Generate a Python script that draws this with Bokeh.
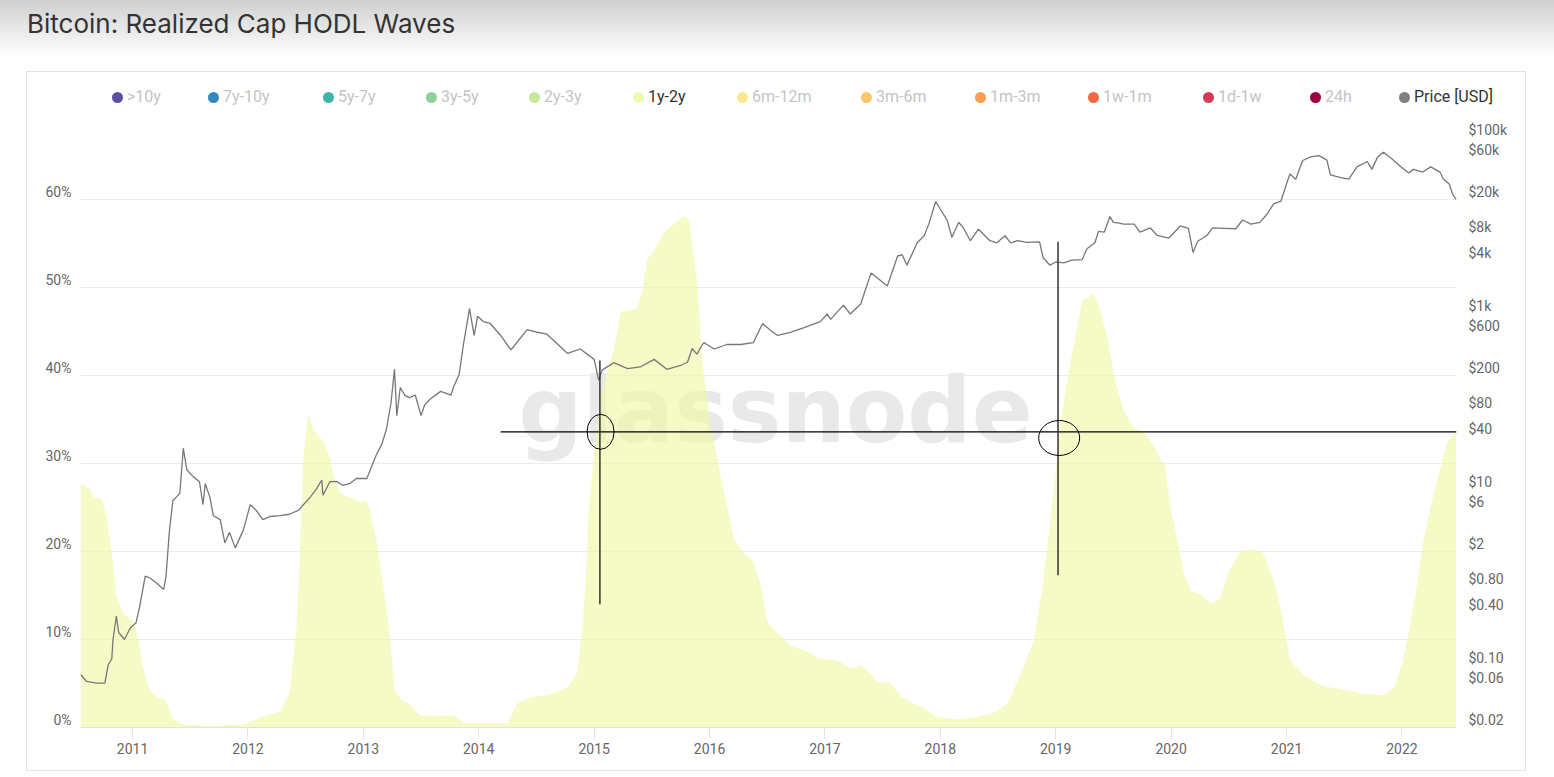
import html
from bokeh.plotting import figure
from bokeh.models import (Range1d, LogScale, LogAxis, FixedTicker, CustomJSTickFormatter,
                          PrintfTickFormatter, Label, Div)
from bokeh.layouts import column
from bokeh.embed import file_html
from bokeh.resources import INLINE

# ---------------- data (dates as decimal years) ----------------
wave_t = [2010.549, 2010.63, 2010.66, 2010.73, 2010.775, 2010.82, 2010.86, 2010.92, 2011.01, 2011.05,
          2011.09, 2011.14, 2011.21, 2011.29, 2011.35, 2011.44, 2011.67, 2011.96, 2012.16, 2012.28,
          2012.36, 2012.42, 2012.45, 2012.48, 2012.52, 2012.57, 2012.62, 2012.67, 2012.71, 2012.75,
          2012.80, 2012.91, 2012.97, 2013.03, 2013.06, 2013.11, 2013.17, 2013.23, 2013.27, 2013.33,
          2013.40, 2013.46, 2013.50, 2013.78, 2013.87, 2014.25, 2014.33, 2014.42, 2014.65, 2014.77,
          2014.85, 2014.90, 2014.93, 2014.95, 2015.00, 2015.06, 2015.11, 2015.17, 2015.23, 2015.37,
          2015.42, 2015.46, 2015.52, 2015.60, 2015.69, 2015.78, 2015.82, 2015.85, 2015.89, 2015.94,
          2016.01, 2016.07, 2016.12, 2016.21, 2016.30, 2016.38, 2016.44, 2016.50, 2016.56, 2016.62,
          2016.70, 2016.85, 2016.96, 2017.11, 2017.22, 2017.31, 2017.40, 2017.45, 2017.57, 2017.66,
          2017.74, 2017.86, 2017.97, 2018.15, 2018.32, 2018.49, 2018.58, 2018.64, 2018.72, 2018.81,
          2018.88, 2018.94, 2019.00, 2019.04, 2019.10, 2019.16, 2019.23, 2019.33, 2019.39, 2019.45,
          2019.51, 2019.59, 2019.68, 2019.76, 2019.85, 2019.92, 2019.95, 2019.99, 2020.05, 2020.11,
          2020.17, 2020.25, 2020.36, 2020.43, 2020.51, 2020.60, 2020.69, 2020.79, 2020.89, 2020.95,
          2021.03, 2021.15, 2021.32, 2021.50, 2021.67, 2021.84, 2021.93, 2022.00, 2022.06, 2022.12,
          2022.18, 2022.25, 2022.33, 2022.39, 2022.47]
wave_1y2y_pct = [27.7, 27.1, 26.2, 26.0, 24.0, 19.8, 15.0, 12.9, 12.0, 9.9,
                 6.9, 4.4, 3.5, 3.1, 0.9, 0.3, 0.2, 0.3, 1.4, 1.8,
                 3.9, 11.2, 19.8, 30.5, 35.6, 33.9, 33.0, 32.2, 30.5, 28.3,
                 26.6, 26.0, 25.6, 25.8, 24.5, 21.5, 16.4, 10.4, 4.4, 3.1,
                 2.7, 1.8, 1.3, 1.4, 0.5, 0.5, 2.7, 3.3, 3.9, 4.6,
                 6.1, 11.2, 17.6, 24.1, 31.3, 37.8, 40.3, 42.9, 47.2, 47.6,
                 49.7, 53.2, 54.2, 56.2, 57.2, 58.1, 57.7, 54.9, 51.0, 41.2,
                 34.3, 30.5, 27.1, 21.5, 19.8, 18.9, 16.4, 12.1, 11.0, 10.4,
                 9.3, 8.6, 7.8, 7.6, 6.7, 7.1, 6.1, 5.2, 5.0, 3.5,
                 2.9, 2.2, 1.2, 0.9, 1.2, 1.8, 2.7, 4.4, 6.9, 9.9,
                 15.5, 21.9, 29.2, 34.8, 39.5, 43.7, 48.5, 49.3, 47.2, 44.2,
                 39.6, 36.0, 34.0, 33.6, 32.0, 30.2, 29.7, 25.2, 21.6, 17.6,
                 15.5, 15.1, 14.0, 14.9, 18.0, 20.0, 20.2, 20.0, 16.7, 13.5,
                 7.7, 5.9, 4.7, 4.3, 3.8, 3.7, 4.5, 7.2, 10.8, 15.3,
                 20.7, 25.2, 29.3, 32.4, 33.6]

price_t = [2010.549, 2010.60, 2010.69, 2010.76, 2010.79, 2010.82, 2010.83, 2010.86, 2010.88, 2010.93,
           2010.98, 2011.03, 2011.06, 2011.11, 2011.15, 2011.21, 2011.27, 2011.29, 2011.32, 2011.35,
           2011.38, 2011.41, 2011.44, 2011.47, 2011.53, 2011.58, 2011.61, 2011.63, 2011.67, 2011.70,
           2011.76, 2011.80, 2011.84, 2011.89, 2011.96, 2012.02, 2012.07, 2012.13, 2012.19, 2012.28,
           2012.36, 2012.44, 2012.48, 2012.54, 2012.59, 2012.64, 2012.65, 2012.71, 2012.77, 2012.82,
           2012.88, 2012.94, 2013.03, 2013.06, 2013.11, 2013.16, 2013.20, 2013.24, 2013.27, 2013.29,
           2013.32, 2013.36, 2013.40, 2013.45, 2013.50, 2013.53, 2013.58, 2013.67, 2013.76, 2013.78,
           2013.83, 2013.87, 2013.92, 2013.96, 2013.99, 2014.04, 2014.10, 2014.19, 2014.28, 2014.33,
           2014.42, 2014.51, 2014.59, 2014.65, 2014.77, 2014.88, 2015.00, 2015.04, 2015.07, 2015.11,
           2015.17, 2015.29, 2015.40, 2015.52, 2015.63, 2015.75, 2015.81, 2015.85, 2015.89, 2015.95,
           2016.04, 2016.15, 2016.27, 2016.38, 2016.46, 2016.53, 2016.59, 2016.70, 2016.82, 2016.96,
           2017.02, 2017.05, 2017.16, 2017.22, 2017.31, 2017.40, 2017.45, 2017.54, 2017.63, 2017.67,
           2017.71, 2017.80, 2017.86, 2017.90, 2017.96, 2018.00, 2018.06, 2018.10, 2018.16, 2018.20,
           2018.26, 2018.33, 2018.43, 2018.49, 2018.56, 2018.61, 2018.67, 2018.75, 2018.86, 2018.89,
           2018.95, 2019.00, 2019.07, 2019.14, 2019.23, 2019.27, 2019.34, 2019.37, 2019.42, 2019.47,
           2019.50, 2019.55, 2019.59, 2019.68, 2019.73, 2019.82, 2019.88, 2019.98, 2020.08, 2020.15,
           2020.19, 2020.23, 2020.31, 2020.36, 2020.46, 2020.56, 2020.62, 2020.69, 2020.77, 2020.83,
           2020.89, 2020.95, 2021.01, 2021.03, 2021.08, 2021.14, 2021.21, 2021.28, 2021.35, 2021.38,
           2021.47, 2021.54, 2021.61, 2021.70, 2021.74, 2021.79, 2021.84, 2021.92, 2021.99, 2022.06,
           2022.10, 2022.18, 2022.25, 2022.33, 2022.36, 2022.41, 2022.44, 2022.47]
price_usd = [0.08, 0.067, 0.064, 0.064, 0.104, 0.12, 0.196, 0.37, 0.24, 0.20,
             0.27, 0.31, 0.46, 1.05, 1.0, 0.87, 0.74, 1.05, 3.5, 7.6,
             8.3, 9.2, 30, 17, 14, 12.4, 6.8, 11.8, 8.3, 5.1,
             4.6, 2.5, 3.3, 2.2, 3.5, 6.8, 5.9, 4.6, 5.0, 5.1,
             5.3, 5.9, 6.8, 8.3, 10.1, 13.0, 8.7, 12.4, 12.5, 11.3,
             11.8, 13.5, 13.5, 16.9, 24.7, 33, 49, 98, 236, 70,
             146, 119, 112, 120, 70, 92, 108, 132, 120, 146,
             205, 474, 1150, 570, 940, 820, 780, 570, 390, 474,
             665, 620, 590, 500, 356, 400, 305, 176, 230, 249,
             280, 240, 250, 305, 235, 260, 285, 405, 350, 474,
             400, 450, 450, 474, 780, 650, 570, 620, 700, 820,
             1000, 870, 1260, 1000, 1300, 2930, 2600, 2075, 4560, 4700,
             3580, 6440, 7740, 10500, 19000, 15500, 11600, 7450, 11000, 9500,
             6800, 9200, 6800, 6440, 7740, 6440, 6800, 6500, 6600, 4380,
             3580, 3900, 3800, 4100, 4150, 5500, 6440, 8700, 8500, 12800,
             11000, 10800, 10500, 10500, 8500, 9500, 7800, 7300, 10000, 9400,
             5000, 6700, 7800, 9500, 9400, 9300, 11700, 10500, 11000, 13600,
             18000, 19000, 32900, 39000, 34000, 55500, 61000, 63000, 56000, 38200,
             35500, 34000, 47000, 54000, 44000, 61000, 69000, 57000, 47000, 40000,
             44000, 41000, 47000, 41000, 34000, 30000, 22800, 20000]

legend_labels = [">10y", "7y-10y", "5y-7y", "3y-5y", "2y-3y", "1y-2y", "6m-12m",
                 "3m-6m", "1m-3m", "1w-1m", "1d-1w", "24h", "Price [USD]"]
legend_colors = ["#5e4fa2", "#3288bd", "#3eb3a7", "#8fd19b", "#c7e89a", "#eefaaf", "#fde68f",
                 "#fdc76c", "#fa9e51", "#ef6743", "#d33c54", "#9e0142", "#808080"]
legend_active = [False, False, False, False, False, True, False,
                 False, False, False, False, False, True]

year_ticks = list(range(2011, 2023))
pct_labels = [0, 10, 20, 30, 40, 50, 60]
pct_grid_ticks = [0, 10, 20, 30, 40, 50, 60, 70]
price_labels = [0.02, 0.06, 0.1, 0.4, 0.8, 2, 6, 10, 40, 80, 200, 600,
                1000, 4000, 8000, 20000, 60000, 100000]

# hand-drawn annotation marks (date, percent)
mark_h_x = [2014.19, 2022.473]
mark_h_y = 33.6
mark_v_x = [2015.05, 2019.02]
mark_v_y0 = [14.0, 17.3]
mark_v_y1 = [41.7, 55.2]
mark_e_x = [2015.056, 2019.03]
mark_e_y = [33.6, 32.9]

# ---------------- layout / style ----------------
W = 1498
FRAME_H, BOTTOM = 616, 43
LEG_H = 39
PX_PER_10PCT = 88.0
LABEL_RAISE_PX = 8                      # tick labels sit ~8px above their grid line
pct_shift = LABEL_RAISE_PX / PX_PER_10PCT * 10
log_factor = 10 ** (LABEL_RAISE_PX / PX_PER_10PCT)
legend_dot_x = [117, 213, 328, 431, 534, 638, 742, 866, 980, 1093, 1208, 1315, 1404]
CARD_X = 27
FONT = "Roboto"

# ---- legend strip (HTML, top of the card) ----
parts = []
for name, col, active, cx in zip(legend_labels, legend_colors, legend_active, legend_dot_x):
    lx = cx - CARD_X
    parts.append(f'<span style="position:absolute;left:{lx - 5.5}px;top:{25 - 5.5}px;width:11px;'
                 f'height:11px;border-radius:50%;background:{col};"></span>')
    parts.append(f'<span style="position:absolute;left:{lx + 10}px;top:15px;line-height:20px;'
                 f'font-family:{FONT};font-size:16px;white-space:nowrap;'
                 f'color:{"#333333" if active else "#c4c4c4"};">{html.escape(name)}</span>')
legend_div = Div(text=f'<div style="position:relative;width:{W}px;height:{LEG_H}px;'
                      f'background:white;">' + "".join(parts) + '</div>',
                 width=W, height=LEG_H)
legend_div.margin = 0

# ---- main chart ----
p = figure(width=W, height=FRAME_H + BOTTOM, x_range=Range1d(2010.549, 2022.473),
           y_range=Range1d(0, 70),
           output_backend="svg", toolbar_location=None,
           min_border_left=53, min_border_right=69, min_border_top=0, min_border_bottom=BOTTOM,
           background_fill_color="white", border_fill_color="white", outline_line_color=None)

p.extra_y_ranges = {"price": Range1d(0.02, 200000)}
p.extra_y_scales = {"price": LogScale()}

# watermark (behind the series)
wm = Label(x=695, y=317, x_units="screen", y_units="screen", text="glassnode",
           text_align="center", text_baseline="middle", text_font="DejaVu Sans",
           text_font_style="bold", text_font_size="90px", text_color="#e9e9e9", level="underlay")
p.add_layout(wm)

# 1y-2y wave
p.varea(x=wave_t, y1=[0] * len(wave_t), y2=wave_1y2y_pct,
        fill_color="#f0f8a8", fill_alpha=0.65)

# price line
p.line(price_t, price_usd, y_range_name="price", line_color="#777777", line_width=1.3)

# hand-drawn marks
p.segment(x0=[mark_h_x[0]], y0=[mark_h_y], x1=[mark_h_x[1]], y1=[mark_h_y],
          line_color="black", line_width=1.2)
p.segment(x0=mark_v_x, y0=mark_v_y0, x1=mark_v_x, y1=mark_v_y1,
          line_color="#333333", line_width=1.5)
p.ellipse(x=mark_e_x, y=mark_e_y, width=[27, 41], height=[35, 35],
          width_units="screen", height_units="screen",
          fill_color=None, line_color="black", line_width=1)

# axes
xa = p.xaxis[0]
xa.ticker = FixedTicker(ticks=year_ticks)
xa.formatter = PrintfTickFormatter(format="%d")
xa.axis_line_color = "#e3e3e3"
xa.major_tick_line_color = "#e3e3e3"
xa.major_tick_out = 12
xa.major_tick_in = 0
xa.minor_tick_line_color = None
xa.major_label_standoff = 3
xa.major_label_text_font = FONT
xa.major_label_text_font_size = "14px"
xa.major_label_text_color = "#666666"

ya = p.yaxis[0]
ya.ticker = FixedTicker(ticks=[v + pct_shift for v in pct_labels])
ya.formatter = CustomJSTickFormatter(args=dict(s=pct_shift),
                                     code="return Math.round(tick - s) + '%';")
ya.axis_line_color = None
ya.major_tick_line_color = None
ya.minor_tick_line_color = None
ya.major_label_standoff = 3
ya.major_label_text_font = FONT
ya.major_label_text_font_size = "14px"
ya.major_label_text_color = "#666666"

ra = LogAxis(y_range_name="price", ticker=FixedTicker(ticks=[v * log_factor for v in price_labels]),
             formatter=CustomJSTickFormatter(args=dict(f=log_factor), code="""
                 const v = Number((tick / f).toPrecision(3));
                 if (v >= 1000) { return "$" + Number((v / 1000).toPrecision(3)) + "k"; }
                 if (v < 1) { return "$" + v.toFixed(2); }
                 return "$" + v;
             """))
ra.axis_line_color = None
ra.major_tick_line_color = None
ra.minor_tick_line_color = None
ra.major_label_standoff = 6
ra.major_label_text_align = "right"
ra.major_label_text_font = FONT
ra.major_label_text_font_size = "14px"
ra.major_label_text_color = "#666666"
p.add_layout(ra, "right")

p.xgrid.grid_line_color = None
p.ygrid.ticker = FixedTicker(ticks=pct_grid_ticks)
p.ygrid.grid_line_color = "#ececec"

card = column(legend_div, p, spacing=0)
card.margin = (16, 0, 0, CARD_X)
card.styles = {"outline": "1px solid #e3e3e3"}

title_div = Div(
    text='<div style="width:1554px;height:56px;box-sizing:border-box;padding-left:27px;'
         'line-height:48px;font-family:Inter;font-size:26px;font-weight:400;color:#333333;'
         'background:linear-gradient(to bottom,#cfcfcf 0%,#f3f3f3 75%,#ffffff 100%);">'
         'Bitcoin: Realized Cap HODL Waves</div>',
    width=1554, height=56)
title_div.margin = 0

layout = column(title_div, card, spacing=0)

open("out.html", "w").write(file_html(layout, INLINE))
